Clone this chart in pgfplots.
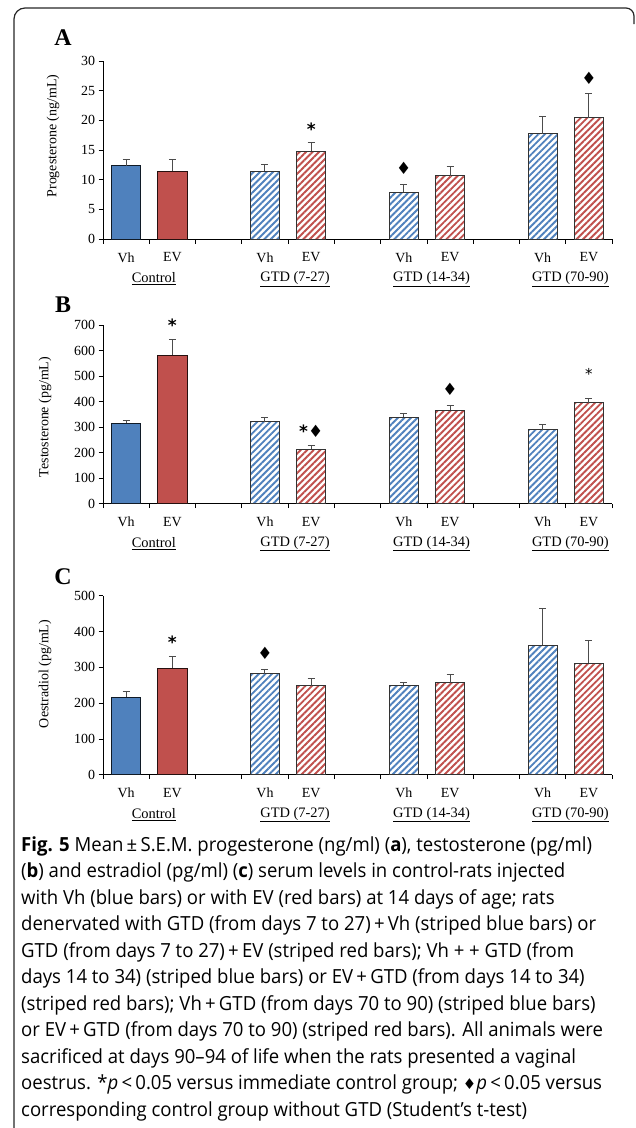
\documentclass[border=0pt]{standalone}
\usepackage{pgfplots}
\pgfplotsset{compat=1.18}
\usepackage{fontspec}
\setmainfont{Liberation Serif}
\newfontfamily\capfont[FakeStretch=0.955]{Open Sans}
\newfontfamily\symfont{DejaVu Sans}
\usetikzlibrary{patterns.meta}
\definecolor{xblue}{HTML}{4F81BD}
\definecolor{xred}{HTML}{C0504D}

\pgfplotsset{
  panel/.style={
    scale only axis, width=509bp, height=178bp,
    anchor=south west,
    xmin=-0.5, xmax=10.5, ymin=0,
    ybar, bar width=0.63, bar shift=0pt,
    axis x line*=bottom, axis y line*=left,
    axis line style={black, line width=0.9bp},
    xtick={-0.5,0.5,...,10.5},
    xticklabels={},
    extra x ticks={0,1,3,4,6,7,9,10},
    extra x tick labels={Vh,EV,Vh,EV,Vh,EV,Vh,EV},
    extra x tick style={major tick length=0pt},
    major tick length=4.5bp,
    tick align=outside,
    tick style={black, line width=0.8bp},
    x tick label style={font=\fontsize{14}{14}\selectfont, yshift=-10bp},
    y tick label style={font=\fontsize{14}{14}\selectfont},
    /pgf/number format/assume math mode=true,
    clip=false,
    error bars/y dir=plus, error bars/y explicit,
    error bars/error bar style={line width=1bp, black!70},
    error bars/error mark options={rotate=90, mark size=3.5bp, line width=1bp, black!70},
  },
  sblue/.style={fill=xblue, draw=black!80!xblue, line width=0.9bp},
  sred/.style={fill=xred, draw=black!80!xred, line width=0.9bp},
  hblue/.style={preaction={fill=white}, pattern={Lines[angle=45,distance=4.6bp,line width=1.9bp]}, pattern color=xblue, draw=black!80, line width=0.9bp},
  hred/.style={preaction={fill=white}, pattern={Lines[angle=45,distance=4.6bp,line width=1.9bp]}, pattern color=xred, draw=black!80, line width=0.9bp},
}
\tikzset{
  grp/.style={font=\fontsize{14.5}{15}\selectfont, yshift=-40bp},
  star/.style={font=\symfont\bfseries\fontsize{17}{17}\selectfont, yshift=14bp},
  dia/.style={font=\symfont\fontsize{17}{17}\selectfont, yshift=16bp},
}

\newcommand{\groups}{%
  \node[grp] at (axis cs:0.6,0) {\underline{Control}};
  \node[grp] at (axis cs:3.65,0) {\underline{GTD (7-27)}};
  \node[grp] at (axis cs:6.6,0) {\underline{GTD (14-34)}};
  \node[grp] at (axis cs:9.6,0) {\underline{GTD (70-90)}};
}

\begin{document}
\begin{tikzpicture}
\path[use as bounding box] (0,0) rectangle (636bp,-1128bp);
\draw[line width=1.2bp, black!85] (14bp,-1128bp) -- (14bp,-19bp) arc[start angle=180,end angle=90,radius=11bp] -- (626bp,-8bp) arc[start angle=90,end angle=0,radius=8bp] -- (634bp,-24bp);

% ---------------- Panel A
\node[font=\bfseries\fontsize{24}{24}\selectfont] at (63bp,-38bp) {A};
\node[rotate=90, font=\fontsize{14}{14}\selectfont] at (53bp,-136bp) {Progesterone (ng/mL)};
\begin{axis}[panel, at={(103bp,-239bp)}, ymax=30, ytick={0,5,...,30}]
\addplot[sblue] coordinates {(0,12.35) +- (0,1.0)};
\addplot[sred] coordinates {(1,11.4) +- (0,2.0)};
\addplot[hblue] coordinates {(3,11.45) +- (0,1.05) (6,7.9) +- (0,1.3) (9,17.75) +- (0,2.95)};
\addplot[hred] coordinates {(4,14.8) +- (0,1.4) (7,10.7) +- (0,1.6) (10,20.45) +- (0,4.0)};
\groups
\node[star] at (axis cs:4,16.2) {*};
\node[dia] at (axis cs:6,9.2) {♦};
\node[dia] at (axis cs:10,24.45) {♦};
\end{axis}

% ---------------- Panel B
\node[font=\bfseries\fontsize{24}{24}\selectfont] at (63bp,-305bp) {B};
\node[rotate=90, font=\fontsize{14}{14}\selectfont] at (45bp,-417bp) {Testosterone (pg/mL)};
\begin{axis}[panel, at={(103bp,-503.7bp)}, height=178.7bp, ymax=700, ytick={0,100,...,700}]
\addplot[sblue] coordinates {(0,315) +- (0,10)};
\addplot[sred] coordinates {(1,582) +- (0,62)};
\addplot[hblue] coordinates {(3,321) +- (0,16) (6,338) +- (0,16) (9,289) +- (0,20)};
\addplot[hred] coordinates {(4,214) +- (0,15) (7,366) +- (0,19) (10,396) +- (0,15)};
\groups
\node[star] at (axis cs:1,644) {*};
\node[star] at (axis cs:4,229) {*\mdseries♦};
\node[dia] at (axis cs:7,385) {♦};
\node[star, font=\symfont\fontsize{15}{15}\selectfont, yshift=11bp] at (axis cs:10,411) {*};
\end{axis}

% ---------------- Panel C
\node[font=\bfseries\fontsize{24}{24}\selectfont] at (63bp,-577bp) {C};
\node[rotate=90, font=\fontsize{14}{14}\selectfont] at (45bp,-674bp) {Oestradiol (pg/mL)};
\begin{axis}[panel, at={(103bp,-774.7bp)}, height=179bp, ymax=500, ytick={0,100,...,500}]
\addplot[sblue] coordinates {(0,217) +- (0,15)};
\addplot[sred] coordinates {(1,298) +- (0,33)};
\addplot[hblue] coordinates {(3,282) +- (0,12) (6,250) +- (0,7) (9,361) +- (0,104)};
\addplot[hred] coordinates {(4,249) +- (0,21) (7,257) +- (0,23) (10,312) +- (0,62)};
\groups
\node[star] at (axis cs:1,331) {*};
\node[dia] at (axis cs:3,294) {♦};
\end{axis}

% ---------------- Caption
\begin{scope}[every node/.style={anchor=base west, inner sep=0pt, font=\capfont\fontsize{19.5}{26.5}\selectfont}]
\node at (21bp,-851bp) {{\bfseries Fig. 5} Mean\,±\,S.E.M. progesterone (ng/ml) ({\bfseries a}), testosterone (pg/ml)};
\node at (21bp,-877.5bp) {({\bfseries b}) and estradiol (pg/ml) ({\bfseries c}) serum levels in control-rats injected};
\node at (21bp,-904bp) {with Vh (blue bars) or with EV (red bars) at 14 days of age; rats};
\node at (21bp,-930.5bp) {denervated with GTD (from days 7 to 27)\,+\,Vh (striped blue bars) or};
\node at (21bp,-957bp) {GTD (from days 7 to 27)\,+\,EV (striped red bars); Vh + + GTD (from};
\node at (21bp,-983.5bp) {days 14 to 34) (striped blue bars) or EV\,+\,GTD (from days 14 to 34)};
\node at (21bp,-1010bp) {(striped red bars); Vh\,+\,GTD (from days 70 to 90) (striped blue bars)};
\node at (21bp,-1036.5bp) {or EV\,+\,GTD (from days 70 to 90) (striped red bars). All animals were};
\node at (21bp,-1063bp) {sacrificed at days 90–94 of life when the rats presented a vaginal};
\node at (21bp,-1089.5bp) {oestrus. *\textit{p}\,<\,0.05 versus immediate control group; {\symfont\fontsize{15}{15}\selectfont ♦}\textit{p}\,<\,0.05 versus};
\node at (21bp,-1116bp) {corresponding control group without GTD (Student’s t-test)};
\end{scope}
\end{tikzpicture}
\end{document}
